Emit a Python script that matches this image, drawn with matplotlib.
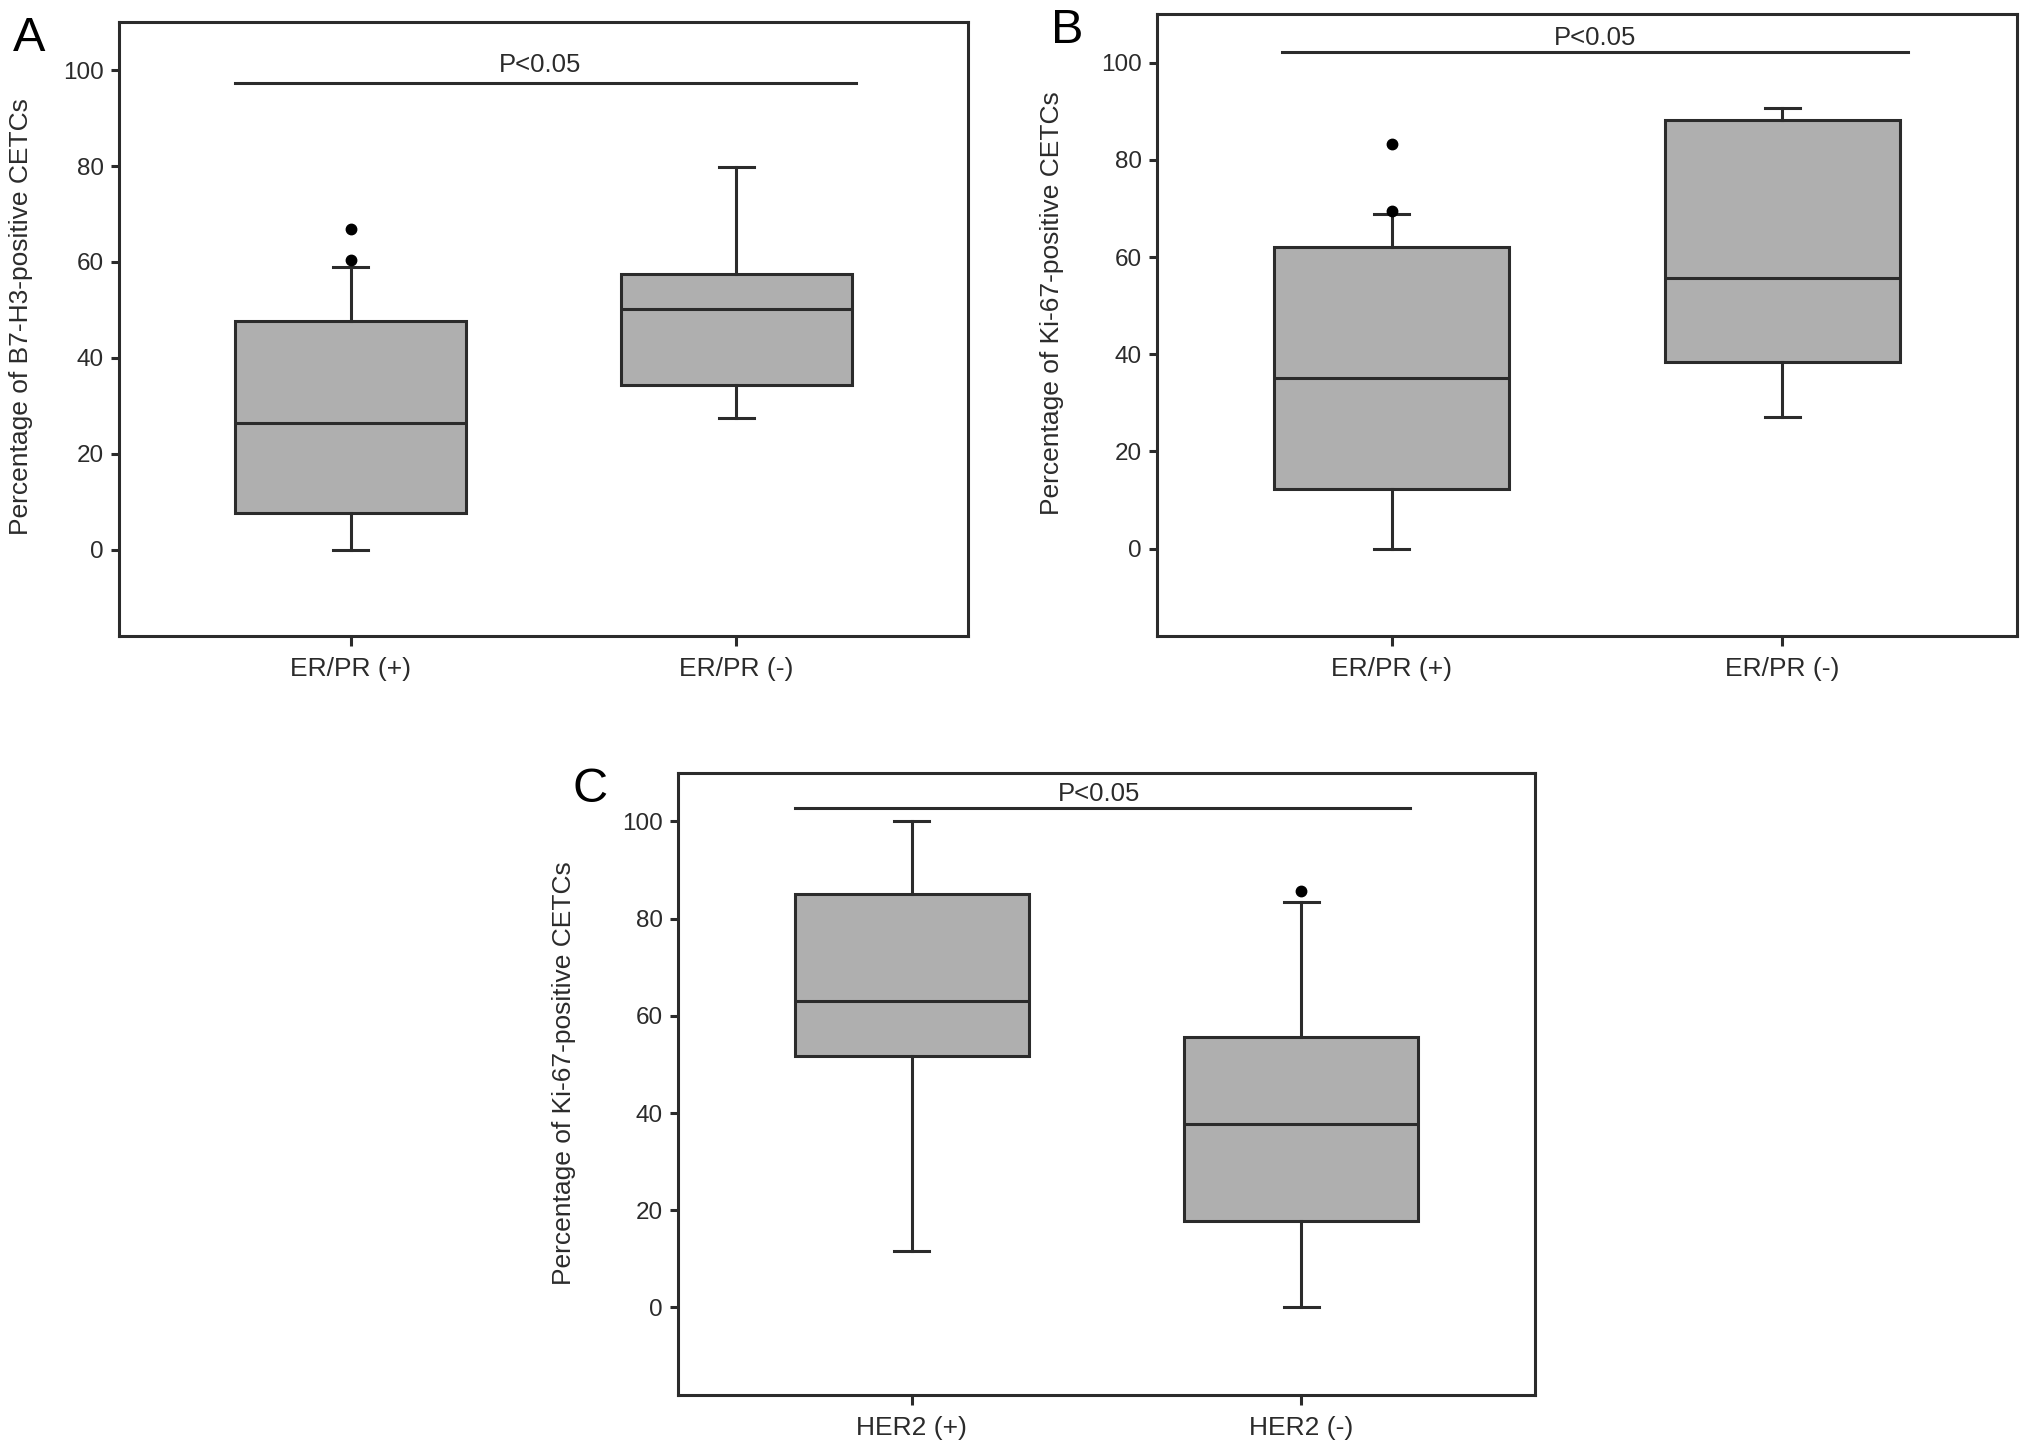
import matplotlib
matplotlib.use("Agg")
import matplotlib.pyplot as plt

plt.rcParams["font.family"] = ["Liberation Sans", "DejaVu Sans"]

# panel A: B7-H3 by ER/PR status
A_LABELS = ["ER/PR (+)", "ER/PR (-)"]
A_WHISLO = [0.0, 27.4]
A_Q1 = [7.7, 34.3]
A_MED = [26.5, 50.3]
A_Q3 = [47.6, 57.5]
A_WHISHI = [58.9, 79.9]
A_FLIERS = [[60.4, 66.9], []]

# panel B: Ki-67 by ER/PR status
B_LABELS = ["ER/PR (+)", "ER/PR (-)"]
B_WHISLO = [0.0, 27.1]
B_Q1 = [12.2, 38.5]
B_MED = [35.2, 55.7]
B_Q3 = [62.1, 88.3]
B_WHISHI = [68.8, 90.6]
B_FLIERS = [[69.5, 83.3], []]

# panel C: Ki-67 by HER2 status
C_LABELS = ["HER2 (+)", "HER2 (-)"]
C_WHISLO = [11.7, 0.0]
C_Q1 = [51.7, 17.8]
C_MED = [63.0, 37.7]
C_Q3 = [85.1, 55.7]
C_WHISHI = [100.0, 83.4]
C_FLIERS = [[], [85.8]]

Y_TICKS = [0, 20, 40, 60, 80, 100]

INK = "#2b2b2b"
BOX_FILL = "#afafaf"
LW = 2.2


def make_stats(labels, whislo, q1, med, q3, whishi, fliers):
    return [
        dict(label=lab, whislo=lo, q1=a, med=m, q3=b, whishi=hi, fliers=fl)
        for lab, lo, a, m, b, hi, fl in zip(labels, whislo, q1, med, q3, whishi, fliers)
    ]


def draw_panel(fig, rect, letter, ylabel, stats, sig_x, sig_y, txt_x, txt_y, label_xy):
    ax = fig.add_axes(rect)
    ax.bxp(
        stats, positions=[1, 2], widths=0.6, capwidths=0.09, patch_artist=True,
        boxprops=dict(facecolor=BOX_FILL, edgecolor=INK, linewidth=LW),
        medianprops=dict(color=INK, linewidth=LW),
        whiskerprops=dict(color=INK, linewidth=LW),
        capprops=dict(color=INK, linewidth=LW),
        flierprops=dict(marker="o", markerfacecolor="black", markeredgecolor="black",
                        markersize=7.5, linestyle="none"),
    )
    ax.set_xlim(0.4, 2.6)
    ax.set_ylim(-18, 110)
    ax.set_yticks(Y_TICKS)
    ax.tick_params(axis="y", direction="out", length=6, width=LW, colors=INK,
                   labelsize=17.5, pad=5)
    ax.tick_params(axis="x", direction="out", length=7, width=LW, colors=INK,
                   labelsize=19, pad=8)
    for sp in ax.spines.values():
        sp.set_linewidth(LW)
        sp.set_color(INK)
    ax.set_ylabel(ylabel, fontsize=19, color=INK)
    ax.yaxis.set_label_coords(*label_xy)

    # significance bar with p-value
    ax.plot(sig_x, [sig_y, sig_y], color=INK, linewidth=LW)
    ax.text(txt_x, txt_y, "P<0.05", ha="center", va="center", fontsize=18.5, color=INK)

    fig.text(rect[0] - 0.052, rect[1] + rect[3] + 0.004, letter, fontsize=35,
             ha="left", va="top", color="black")
    return ax


def main():
    fig = plt.figure(figsize=(20.31, 14.49), dpi=100, facecolor="white")

    draw_panel(
        fig, [0.0586, 0.561, 0.418, 0.4237], "A", "Percentage of B7-H3-positive CETCs",
        make_stats(A_LABELS, A_WHISLO, A_Q1, A_MED, A_Q3, A_WHISHI, A_FLIERS),
        [0.70, 2.31], 97.3, 1.49, 101.0, (-0.101, 0.52),
    )
    draw_panel(
        fig, [0.5697, 0.561, 0.4234, 0.4293], "B", "Percentage of Ki-67-positive CETCs",
        make_stats(B_LABELS, B_WHISLO, B_Q1, B_MED, B_Q3, B_WHISHI, B_FLIERS),
        [0.72, 2.32], 102.1, 1.52, 105.1, (-0.108, 0.535),
    )
    draw_panel(
        fig, [0.3338, 0.0373, 0.422, 0.4293], "C", "Percentage of Ki-67-positive CETCs",
        make_stats(C_LABELS, C_WHISLO, C_Q1, C_MED, C_Q3, C_WHISHI, C_FLIERS),
        [0.70, 2.28], 102.7, 1.48, 105.6, (-0.119, 0.518),
    )

    fig.savefig("out.png", dpi=100, facecolor="white")


if __name__ == "__main__":
    main()
